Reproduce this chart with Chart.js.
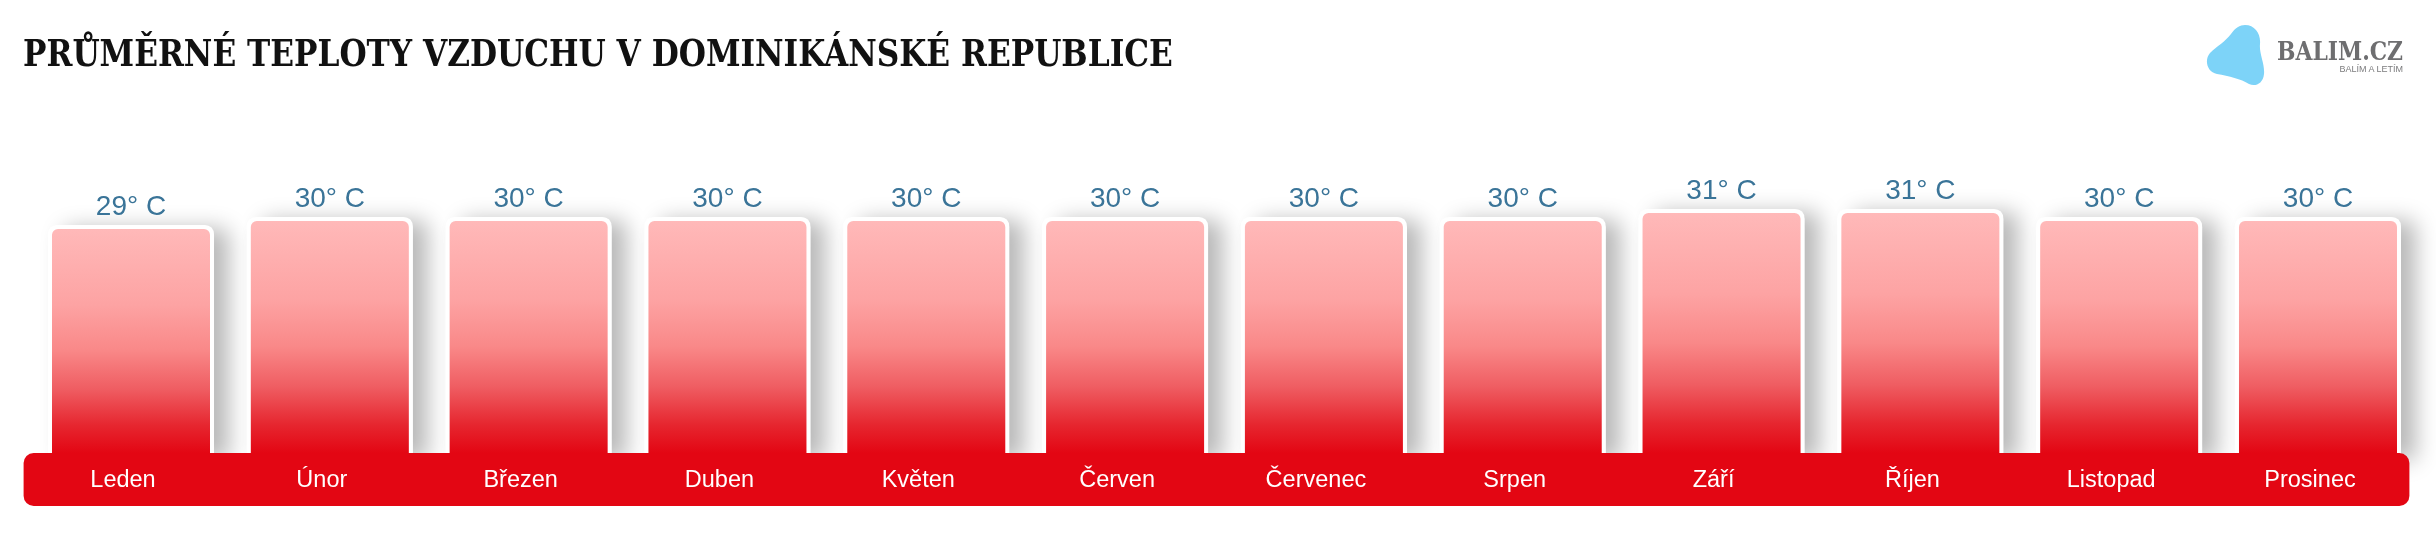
<!DOCTYPE html>
<html>
<head>
<meta charset="utf-8">
<script src="https://cdn.jsdelivr.net/npm/chart.js@4.4.1/dist/chart.umd.min.js"></script>
<style>
    html, body { margin: 0; padding: 0; background: #fff; }
    #wrap { position: relative; width: 2436px; height: 538px; overflow: hidden; }
    #chart { position: absolute; left: 0; top: 0; }
    .txt { position: absolute; white-space: nowrap; }
    #title {
        left: 23px; top: 34px;
        font-family: "DejaVu Serif", serif; font-weight: bold; font-stretch: condensed;
        font-size: 38px; line-height: 38px; color: #111;
        transform-origin: left top;
    }
    #brand {
        right: 33px; top: 38px;
        font-family: "DejaVu Serif", serif; font-weight: bold; font-stretch: condensed;
        font-size: 26px; line-height: 26px; color: #6e6e70;
        transform-origin: right top;
    }
    #motto {
        right: 33px; top: 65px;
        font-family: "Liberation Sans", Arial, sans-serif;
        font-size: 9px; line-height: 9px; color: #7c7c7e;
    }
    #blob { position: absolute; left: 2205px; top: 24px; }
</style>
</head>
<body>
<div id="wrap">
    <canvas id="chart" width="2436" height="538"></canvas>
    <div id="title" class="txt">PRŮMĚRNÉ TEPLOTY VZDUCHU V DOMINIKÁNSKÉ REPUBLICE</div>
    <svg id="blob" width="62" height="64" viewBox="0 0 62 64">
        <path fill="#7dd3f8" d="M40,1 C50,1 56,10 55,20 C54,30 60,40 59,50 C58,60 50,63 44,60 C36,55 24,52 12,50 C2,48 -1,36 5,29 C12,22 20,18 26,10 C30,4 35,1 40,1 Z"/>
    </svg>
    <div id="brand" class="txt">BALIM.CZ</div>
    <div id="motto" class="txt">BALÍM A LETÍM</div>
</div>
<script>
const months = ["Leden", "Únor", "Březen", "Duben", "Květen", "Červen",
    "Červenec", "Srpen", "Září", "Říjen", "Listopad", "Prosinec"];
const temperatures = [29, 30, 30, 30, 30, 30, 30, 30, 31, 31, 30, 30];
const unitSuffix = "° C";

const labelShift = -8;

function fitWidth(id, target) {
    const el = document.getElementById(id);
    const w = el.offsetWidth;
    el.style.transform = "scaleX(" + (target / w) + ")";
}

function roundTopRect(ctx, x, y, w, h, r) {
    ctx.beginPath();
    ctx.moveTo(x, y + h);
    ctx.lineTo(x, y + r);
    ctx.quadraticCurveTo(x, y, x + r, y);
    ctx.lineTo(x + w - r, y);
    ctx.quadraticCurveTo(x + w, y, x + w, y + r);
    ctx.lineTo(x + w, y + h);
    ctx.closePath();
}

function barGradient(context) {
    const chart = context.chart;
    const yScale = chart.scales.y;
    if (!yScale) {
        return "#f88";
    }
    const top = yScale.getPixelForValue(context.raw);
    const base = yScale.getPixelForValue(0) - 4;
    if (!isFinite(top) || !isFinite(base)) {
        return "#f88";
    }
    const g = chart.ctx.createLinearGradient(0, top, 0, base);
    g.addColorStop(0, "#ffbaba");
    g.addColorStop(0.35, "#fda3a3");
    g.addColorStop(0.55, "#f98888");
    g.addColorStop(0.72, "#ef5d62");
    g.addColorStop(0.88, "#e6262f");
    g.addColorStop(1, "#e30613");
    return g;
}

const shadowPlugin = {
    id: "barShadow",
    beforeDatasetsDraw(chart) {
        const ctx = chart.ctx;
        const meta = chart.getDatasetMeta(0);
        ctx.save();
        ctx.shadowColor = "rgba(0, 0, 0, 0.28)";
        ctx.shadowBlur = 22;
        ctx.shadowOffsetX = 15;
        ctx.shadowOffsetY = 3;
        ctx.fillStyle = "#ffffff";
        meta.data.forEach(function (bar) {
            const p = bar.getProps(["x", "y", "base", "width"], true);
            roundTopRect(ctx, p.x - p.width / 2, p.y, p.width, p.base - p.y, 10);
            ctx.fill();
        });
        ctx.restore();
    }
};

const stripPlugin = {
    id: "monthStrip",
    afterDatasetsDraw(chart) {
        const ctx = chart.ctx;
        const area = chart.chartArea;
        const xScale = chart.scales.x;
        const yScale = chart.scales.y;
        const zero = yScale.getPixelForValue(0);
        const meta = chart.getDatasetMeta(0);

        ctx.save();
        // red strip with month names
        ctx.fillStyle = "#e30613";
        ctx.beginPath();
        ctx.roundRect(area.left + labelShift, zero - 4, area.right - area.left, 53, 10);
        ctx.fill();

        ctx.fillStyle = "#ffffff";
        ctx.font = "23.5px 'Liberation Sans', Arial, sans-serif";
        ctx.textAlign = "center";
        ctx.textBaseline = "alphabetic";
        months.forEach(function (m, i) {
            ctx.fillText(m, xScale.getPixelForValue(i) + labelShift, zero + 30);
        });

        // values above bars
        ctx.fillStyle = "#3a7498";
        ctx.font = "28px 'Liberation Sans', Arial, sans-serif";
        meta.data.forEach(function (bar, i) {
            ctx.fillText(temperatures[i] + unitSuffix, bar.x, bar.y - 10);
        });
        ctx.restore();
    }
};

document.addEventListener("DOMContentLoaded", function () {
    fitWidth("title", 1150);
    fitWidth("brand", 126);

    const ctx = document.getElementById("chart").getContext("2d");
    const chart = new Chart(ctx, {
        type: "bar",
        data: {
            labels: months,
            datasets: [
                {
                    data: temperatures,
                    backgroundColor: barGradient,
                    borderColor: "#ffffff",
                    borderWidth: { top: 4, left: 4, right: 4, bottom: 0 },
                    borderSkipped: "bottom",
                    borderRadius: { topLeft: 10, topRight: 10, bottomLeft: 0, bottomRight: 0 },
                    barPercentage: 0.835,
                    categoryPercentage: 1,
                },
            ],
        },
        options: {
            responsive: false,
            animation: false,
            devicePixelRatio: 1,
            layout: {
                padding: { left: 31.6, right: 18.6, top: 177, bottom: 81 },
            },
            scales: {
                x: { display: false },
                y: { display: false, min: 0, max: 35 },
            },
            plugins: {
                legend: { display: false },
                tooltip: { enabled: false },
            },
        },
        plugins: [shadowPlugin, stripPlugin],
    });
    chart.update();
});
</script>
</body>
</html>
